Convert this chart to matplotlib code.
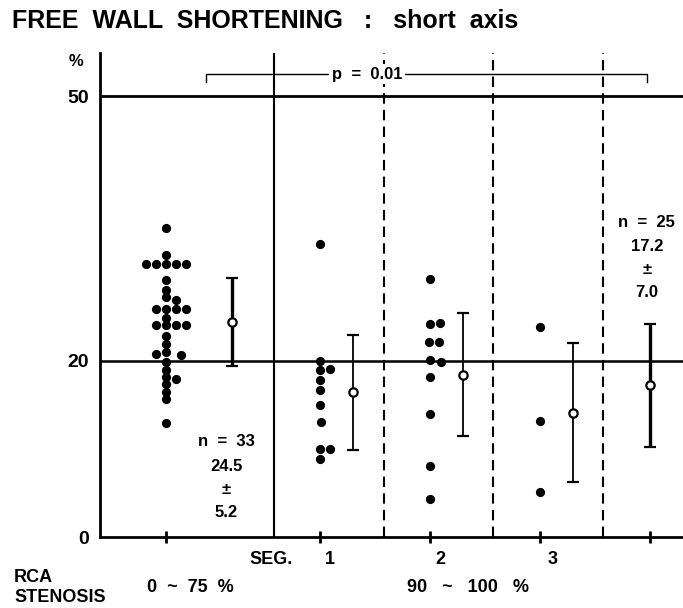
import numpy as np
import matplotlib.pyplot as plt

plt.rcParams['font.family'] = ['Liberation Sans', 'DejaVu Sans']
plt.rcParams['font.weight'] = 'bold'

# group positions on the x axis (one per column of dots)
group_x = [0.6, 2.0, 3.0, 4.0]
bar_x = [1.2, 2.3, 3.3, 4.3, 5.0]
divider_solid = 1.58
divider_dashed = [2.58, 3.57, 4.57]

# RCA stenosis 0-75 %  (n = 33)
g0_vals = [35.1, 32.0, 31.0, 31.0, 31.0, 31.0, 31.0, 29.1, 28.0, 27.2, 26.9,
           25.9, 25.9, 25.9, 25.9, 24.8, 24.0, 24.0, 24.0, 24.0, 22.8, 21.9,
           21.0, 20.8, 20.7, 19.9, 18.9, 18.2, 17.9, 17.3, 16.5, 15.6, 12.9]
g0_slot = [0, 0, -2, -1, 0, 1, 2, 0, 0, 0, 1,
           -1, 0, 1, 2, 0, -1, 0, 1, 2, 0, 0,
           0, -1, 1.5, 0, 0, 0, 1, 0, 0, 0, 0]
# segment 1
g1_vals = [33.2, 20.0, 18.9, 19.0, 17.8, 16.7, 15.0, 13.0, 10.0, 10.0, 8.9]
g1_slot = [0, 0, 0, 1, 0, 0, 0, 0.15, 0, 1, 0]
# segment 2
g2_vals = [29.3, 24.2, 24.3, 22.1, 22.1, 20.1, 19.9, 18.1, 14.0, 8.1, 4.3]
g2_slot = [0, 0, 1, -0.1, 0.9, 0, 1.1, 0, 0, 0, 0]
# segment 3
g3_vals = [23.8, 13.2, 5.1]
g3_slot = [0, 0, 0]

# mean +/- SD bars: 0-75 %, seg 1, seg 2, seg 3, all 90-100 %
means = [24.4, 16.4, 18.4, 14.1, 17.2]
sds = [4.95, 6.5, 7.0, 7.9, 7.0]
bar_lw = [2.4, 1.3, 1.3, 1.3, 2.4]

fig = plt.figure(figsize=(6.83, 6.08), dpi=100)
ax = fig.add_axes([100 / 683, 71 / 608, 583 / 683, 484 / 608])
ax.set_xlim(0, 5.3)
ax.set_ylim(0, 54.9)

slot_w = 0.09
for gx, vals, slots in zip(group_x, [g0_vals, g1_vals, g2_vals, g3_vals],
                           [g0_slot, g1_slot, g2_slot, g3_slot]):
    xs = gx + np.array(slots) * slot_w
    ax.scatter(xs, vals, s=44, color='black', zorder=4, linewidths=0)

for bx, m, sd, lw in zip(bar_x, means, sds, bar_lw):
    ax.errorbar(bx, m, yerr=sd, fmt='o', color='black', mfc='white', mec='black',
                ms=6, mew=1.6, elinewidth=lw, capsize=4.5, capthick=2, zorder=5)

# reference lines
ax.axhline(20, color='black', lw=1.8, zorder=2)
ax.axhline(50, color='black', lw=2.0, zorder=2)
ax.axvline(divider_solid, color='black', lw=1.5, zorder=2)
for dx in divider_dashed:
    ax.axvline(dx, color='black', lw=1.5, ls=(0, (5, 3)), zorder=2)

# p bracket
bx0, bx1, by = 0.96, 4.97, 52.5
ax.plot([bx0, bx0, bx1, bx1], [51.6, by, by, 51.6], color='black', lw=1.0,
        clip_on=False, zorder=3)
ax.text(2.43, by, 'p  =  0.01', ha='center', va='center', fontsize=12,
        bbox=dict(facecolor='white', edgecolor='none', pad=2), zorder=6)

# annotations
for txt, y in zip(['n  =  33', '24.5', '±', '5.2'], [10.8, 8.05, 5.4, 2.8]):
    ax.text(1.15, y, txt, ha='center', va='center', fontsize=12)
for txt, y in zip(['n  =  25', '17.2', '±', '7.0'], [35.7, 33.0, 30.3, 27.7]):
    ax.text(4.97, y, txt, ha='center', va='center', fontsize=12)

# axes styling
for s in ['top', 'right']:
    ax.spines[s].set_visible(False)
ax.spines['left'].set_linewidth(2)
ax.spines['bottom'].set_linewidth(2)
ax.set_yticks([0, 20, 50])
ax.set_yticklabels(['0', '20', '50'], fontsize=14, fontweight='bold')
ax.tick_params(axis='y', length=0, pad=8)
ax.set_xticks(group_x + [5.0])
ax.set_xticklabels([])
ax.tick_params(axis='x', direction='inout', length=9, width=2)


def px(x, y, s, **kw):
    fig.text(x / 683, 1 - y / 608, s, **kw)


px(12, 21, 'FREE  WALL  SHORTENING   :   short  axis', fontsize=18, va='center')
px(76, 62, '%', fontsize=12, ha='center', va='center')
px(271, 559, 'SEG.', fontsize=13, ha='center', va='center')
px(330, 559, '1', fontsize=13, ha='center', va='center')
px(440, 559, '2', fontsize=13, ha='center', va='center')
px(553, 559, '3', fontsize=13, ha='center', va='center')
px(14, 577, 'RCA', fontsize=13, va='center')
px(14, 597, 'STENOSIS', fontsize=13, va='center')
px(190, 588, '0  ~  75  %', fontsize=13, ha='center', va='center')
px(468, 588, '90   ~   100   %', fontsize=13, ha='center', va='center')

fig.savefig('out.png', dpi=100)
